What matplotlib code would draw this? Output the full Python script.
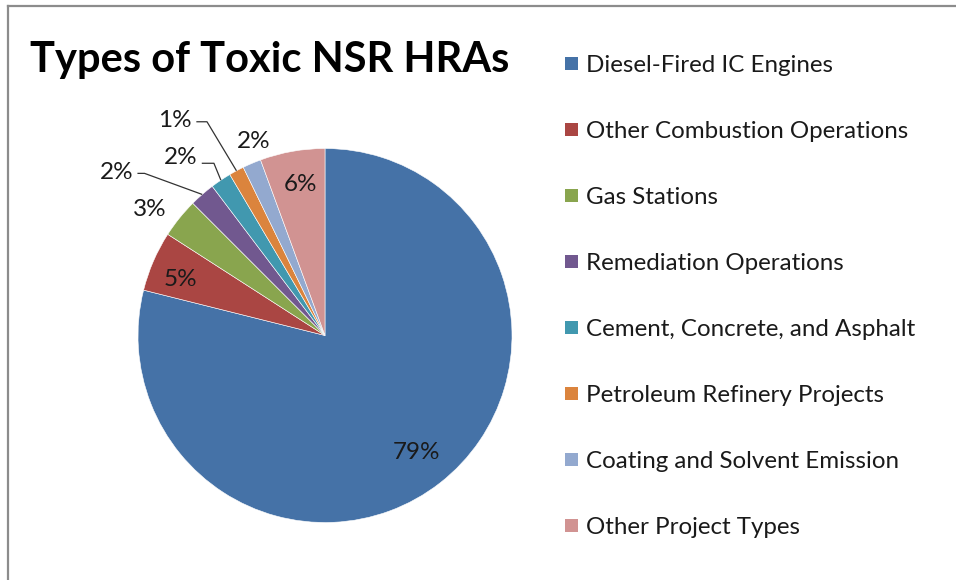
import numpy as np
import matplotlib
matplotlib.use("Agg")
import matplotlib.pyplot as plt
from matplotlib.patches import Rectangle
from matplotlib.lines import Line2D

# ---- data ----
categories = [
    "Diesel-Fired IC Engines",
    "Other Combustion Operations",
    "Gas Stations",
    "Remediation Operations",
    "Cement, Concrete, and Asphalt",
    "Petroleum Refinery Projects",
    "Coating and Solvent Emission",
    "Other Project Types",
]
shares = [78.9, 5.2, 3.4, 2.2, 1.8, 1.3, 1.6, 5.6]
colors = ["#4572A7", "#AA4643", "#89A54E", "#71588F",
          "#4198AF", "#DB843D", "#93A9CF", "#D19392"]
title = "Types of Toxic NSR HRAs"

FONT = "Lato"
W, H = 956, 580
fig = plt.figure(figsize=(W / 100, H / 100), dpi=100)
fig.patch.set_facecolor("white")

# pie axes: center (325, 335.5) px from top-left, radius 187 px
R = 187.0
cx, cy = 325.0, 335.5
ax_w, ax_h = 2 * cx, 2 * (H - cy)
ax = fig.add_axes([0, 0, ax_w / W, ax_h / H])

wedges, _ = ax.pie(shares, colors=colors, startangle=90, counterclock=False,
                   radius=1.0, wedgeprops=dict(edgecolor="white", linewidth=0.4))
ax.set_aspect("auto")
ax.set_xlim(-cx / R, cx / R)
ax.set_ylim(-(H - cy) / R, (H - cy) / R)
ax.axis("off")

labels = [f"{round(v)}%" for v in shares]

# label positions (data units) and optional leader elbows
label_pos = [(0.49, -0.625), (-0.775, 0.30), (-0.939, 0.675), (-1.112, 0.872),
             (-0.77, 0.952), (-0.805, 1.152), (-0.38, 1.035), (-0.13, 0.807)]
leaders = {3: [(-1.003, 0.867), (-0.965, 0.867)],
           4: [(-0.659, 0.921), (-0.594, 0.921)],
           5: [(-0.688, 1.143), (-0.631, 1.143)]}

for i, (w, lab) in enumerate(zip(wedges, labels)):
    x, y = label_pos[i]
    ax.text(x, y, lab, ha="center", va="center", fontsize=17.5,
            family=FONT, color="#1a1a1a")
    if i in leaders:
        mid = np.deg2rad((w.theta1 + w.theta2) / 2)
        pts = leaders[i] + [(np.cos(mid), np.sin(mid))]
        xs, ys = zip(*pts)
        ax.plot(xs, ys, color="#333333", lw=0.9, solid_capstyle="butt")

# title
fig.text(30 / W, 1 - 72 / H, title, ha="left", va="baseline",
         fontsize=30, fontweight="bold", family=FONT, color="black")

# legend (manual)
for i, (cat, col) in enumerate(zip(categories, colors)):
    yc = 63.3 + 66.0 * i
    fig.patches.append(Rectangle((565 / W, 1 - (yc + 6.5) / H), 13 / W, 13 / H,
                                 transform=fig.transFigure, facecolor=col,
                                 edgecolor="none"))
    fig.text(586 / W, 1 - (yc + 2.0) / H, cat, ha="left", va="center",
             fontsize=17.4, family=FONT, color="#1a1a1a")

# outer frame (top and left edges visible)
fig.add_artist(Line2D([7.5 / W, 1.0], [1 - 6 / H, 1 - 6 / H],
                      transform=fig.transFigure, color="#8c8c8c", lw=1.6))
fig.add_artist(Line2D([8 / W, 8 / W], [0, 1 - 6 / H],
                      transform=fig.transFigure, color="#8c8c8c", lw=1.6))

fig.savefig("out.png", dpi=100, facecolor="white")
